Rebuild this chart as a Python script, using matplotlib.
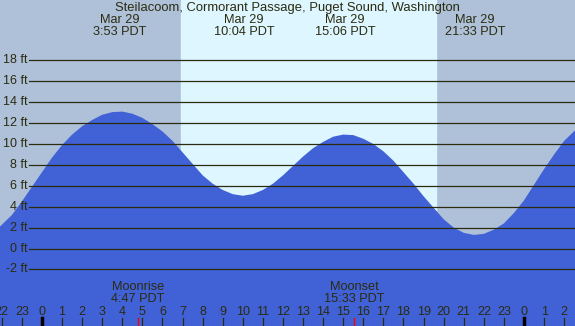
import matplotlib
matplotlib.use('Agg')
import matplotlib.pyplot as plt

# tide heights (ft), hours relative to midnight Mar 29
hours = [-2.09, -1.5, -1, -0.5, 0, 0.5, 1, 1.5, 2, 2.5, 3, 3.5, 4, 4.5, 5, 5.5,
         6, 6.5, 7, 7.5, 8, 8.5, 9, 9.5, 10, 10.5, 11, 11.5, 12, 12.5, 13, 13.5,
         14, 14.5, 15, 15.5, 16, 16.5, 17, 17.5, 18, 18.5, 19, 19.5, 20, 20.5,
         21, 21.5, 22, 22.5, 23, 23.5, 24, 24.5, 25, 25.5, 26, 26.54]
heights = [2.1, 3.2, 4.5, 5.9, 7.3, 8.7, 9.9, 10.9, 11.7, 12.3, 12.8, 13.05, 13.1, 12.9, 12.5, 11.9,
           11.2, 10.3, 9.2, 8.1, 7.0, 6.2, 5.6, 5.2, 5.05, 5.2, 5.6, 6.2, 7.0, 7.9, 8.8, 9.6,
           10.2, 10.7, 10.9, 10.85, 10.5, 10.0, 9.3, 8.4, 7.3, 6.2, 5.0, 3.9, 2.8, 2.0,
           1.5, 1.3, 1.4, 1.8, 2.4, 3.4, 4.6, 6.1, 7.6, 9.0, 10.3, 11.3]

extreme_hours = [3.88, 10.07, 15.1, 21.55]
extreme_labels = ['3:53 PDT', '10:04 PDT', '15:06 PDT', '21:33 PDT']
sunrise, sunset = 6.92, 19.62
moon_hours = [4.78, 15.55]
moon_names = ['Moonrise', 'Moonset']
moon_times = ['4:47 PDT', '15:33 PDT']
grid_levels = [-2, 0, 2, 4, 6, 8, 10, 12, 14, 16, 18]
tick_hours = list(range(-2, 27))

W, H = 575, 326
night = '#aec1d8'
day = '#ddf6ff'
water = '#4161d6'
ink = '#2b2b10'

plt.rcParams['font.family'] = ['Liberation Sans', 'DejaVu Sans']

fig = plt.figure(figsize=(W / 100, H / 100), dpi=100)
ax = fig.add_axes([0, 0, 1, 1])
ax.set_xlim(-2.09, 26.54)
ax.set_ylim((248.5 - H) / 10.45, 248.5 / 10.45)
ax.axis('off')

ax.axvspan(-2.09, 26.54, color=night, zorder=0)
ax.axvspan(sunrise, sunset, color=day, zorder=0)
ax.fill_between(hours, heights, -10, color=water, lw=0, zorder=1)

for lv in grid_levels:
    ax.axhline(lv, xmin=29 / W, color=ink, lw=0.9, zorder=2)
    ax.text(-0.72, lv, f'{lv} ft', ha='right', va='center', fontsize=9, color=ink)

top = ax.get_xaxis_transform()
ax.text(0.5, 1 - 8 / H, 'Steilacoom, Cormorant Passage, Puget Sound, Washington',
        transform=ax.transAxes, ha='center', va='center', fontsize=9.4, color=ink)
for h, lab in zip(extreme_hours, extreme_labels):
    ax.text(h, 1 - 20 / H, 'Mar 29', transform=top, ha='center', va='center', fontsize=9.2, color=ink)
    ax.text(h, 1 - 32 / H, lab, transform=top, ha='center', va='center', fontsize=9.2, color=ink)

for h, name, t in zip(moon_hours, moon_names, moon_times):
    ax.text(h, 1 - 287.5 / H, name, transform=top, ha='center', va='center', fontsize=9.2, color=ink)
    ax.text(h, 1 - 299.5 / H, t, transform=top, ha='center', va='center', fontsize=9.2, color=ink)
    ax.plot([h, h], [0, 8 / H], transform=top, color='red', lw=1, zorder=3)

for h in tick_hours:
    ax.text(h, 1 - 312 / H, str(h % 24), transform=top, ha='center', va='center', fontsize=9, color=ink)
    midnight = h % 24 == 0
    ax.plot([h, h], [0, 8 / H], transform=top, color='black' if midnight else ink,
            lw=2.5 if midnight else 0.9, zorder=3)

fig.savefig('out.png', dpi=100)
